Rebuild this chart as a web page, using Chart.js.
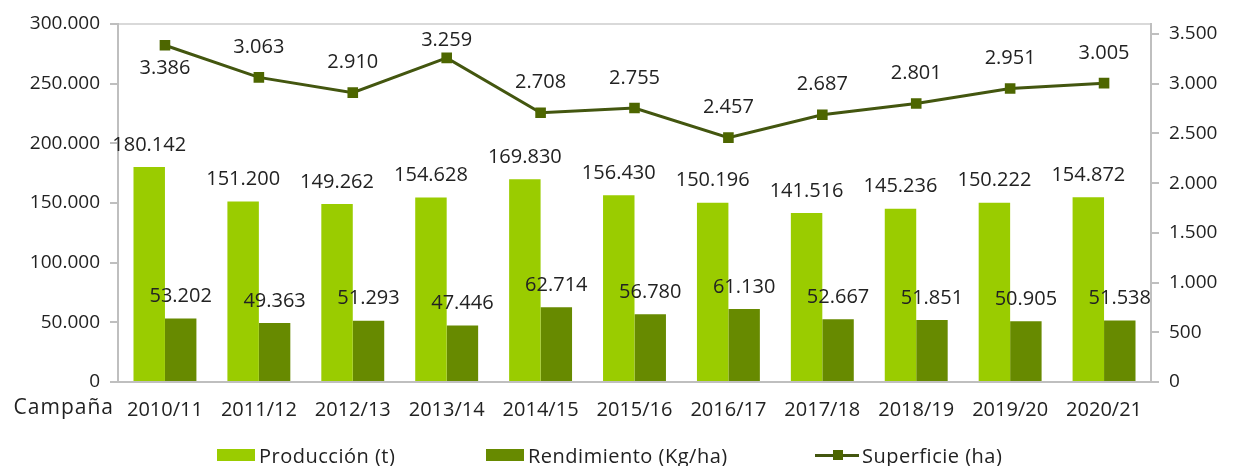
<!DOCTYPE html>
<html>
<head>
<meta charset="utf-8">
<script src="https://cdn.jsdelivr.net/npm/chart.js@4/dist/chart.umd.min.js"></script>
<style>
  html, body { margin: 0; padding: 0; background: #fff; }
  #wrap { position: relative; width: 1239px; height: 466px; }
  #legend { position: absolute; left: 0; top: 444px; width: 1239px; height: 22px; font-family: "Open Sans", sans-serif; font-size: 20px; letter-spacing: 0.5px; color: #222; }
  .item { position: absolute; top: 0; display: flex; align-items: center; height: 22px; white-space: nowrap; }
  .box { width: 38px; height: 12px; margin-right: 4px; }
  .line { position: relative; width: 44px; height: 3px; margin-right: 3px; }
  .line span { position: absolute; left: 18px; top: -4px; width: 10px; height: 10px; }
</style>
</head>
<body>
<div id="wrap">
  <canvas id="chart" width="1239" height="466"></canvas>
  <div id="legend"></div>
</div>
<script>
const categories = ["2010/11", "2011/12", "2012/13", "2013/14", "2014/15", "2015/16", "2016/17", "2017/18", "2018/19", "2019/20", "2020/21"];
const produccion = [180142, 151200, 149262, 154628, 169830, 156430, 150196, 141516, 145236, 150222, 154872];
const rendimiento = [53202, 49363, 51293, 47446, 62714, 56780, 61130, 52667, 51851, 50905, 51538];
const superficie = [3386, 3063, 2910, 3259, 2708, 2755, 2457, 2687, 2801, 2951, 3005];
const rightTicks = [0, 500, 1000, 1500, 2000, 2500, 3000, 3500];

const fontFamily = "'Open Sans', sans-serif";
const lightGreen = "#9ACC00";
const darkGreen = "#678A00";
const lineColor = "#43560F";
const markerColor = "#4D6600";

const fmt = (v) => String(v).replace(/\B(?=(\d{3})+(?!\d))/g, ".");

// value labels drawn from element positions
const valueLabels = {
  id: "valueLabels",
  afterDatasetsDraw(chart) {
    const ctx = chart.ctx;
    const top = chart.chartArea.top;
    ctx.save();
    ctx.font = "20px " + fontFamily;
    ctx.fillStyle = "#222";
    ctx.textAlign = "center";
    ctx.textBaseline = "middle";
    chart.data.datasets.forEach((ds, i) => {
      const meta = chart.getDatasetMeta(i);
      meta.data.forEach((el, j) => {
        let y;
        if (ds.type === "line") {
          // first label sits below its point, the rest above (kept inside the plot)
          y = j === 0 ? el.y + 23 : Math.max(el.y - 30, top + 16);
        } else {
          y = el.y - 22;
        }
        ctx.fillText(fmt(ds.data[j]), el.x, y);
      });
    });
    ctx.restore();
  },
};

// "Campaña" text at the left of the category labels
const campanaLabel = {
  id: "campanaLabel",
  afterDraw(chart) {
    const ctx = chart.ctx;
    ctx.save();
    ctx.font = "21px " + fontFamily;
    ctx.letterSpacing = "1px";
    ctx.fillStyle = "#222";
    ctx.textAlign = "right";
    ctx.textBaseline = "middle";
    ctx.fillText("Campaña", 114, 408);
    ctx.restore();
  },
};

const chartConfig = {
  type: "bar",
  data: {
    labels: categories,
    datasets: [
      {
        label: "Producción (t)",
        data: produccion,
        backgroundColor: lightGreen,
        yAxisID: "y",
        order: 2,
      },
      {
        label: "Rendimiento (Kg/ha)",
        data: rendimiento,
        backgroundColor: darkGreen,
        yAxisID: "y",
        order: 2,
      },
      {
        type: "line",
        label: "Superficie (ha)",
        data: superficie,
        borderColor: lineColor,
        backgroundColor: markerColor,
        borderWidth: 3,
        pointStyle: "rect",
        pointRadius: 7.5,
        pointBorderWidth: 0,
        pointBackgroundColor: markerColor,
        tension: 0,
        yAxisID: "y1",
        order: 1,
      },
    ],
  },
  options: {
    responsive: false,
    animation: false,
    layout: { padding: { left: 10, right: 0, top: 24, bottom: 46 } },
    datasets: {
      bar: { barPercentage: 1, categoryPercentage: 0.67 },
    },
    plugins: {
      legend: { display: false },
      tooltip: { enabled: false },
    },
    scales: {
      x: {
        grid: { display: false, drawTicks: false },
        border: { display: true, color: "#BFBFBF", width: 2 },
        ticks: { font: { family: fontFamily, size: 20 }, color: "#222", padding: 16, maxRotation: 0 },
        afterFit(scale) { scale.height = 38; },
      },
      y: {
        position: "left",
        min: 0,
        max: 300000,
        ticks: {
          stepSize: 50000,
          font: { family: fontFamily, size: 19 },
          color: "#222",
          padding: 10,
          callback: (v) => fmt(v),
        },
        grid: {
          color: (c) => (c.tick && c.tick.value === 300000 ? "#D9D9D9" : "transparent"),
          tickColor: "#BFBFBF",
          tickLength: 8,
          lineWidth: 2,
        },
        border: { color: "#BFBFBF", width: 2 },
        afterFit(scale) { scale.width = 108; },
      },
      y1: {
        position: "right",
        min: 0,
        max: 3600,
        ticks: {
          font: { family: fontFamily, size: 19 },
          color: "#222",
          padding: 10,
          callback: (v) => fmt(v),
        },
        afterBuildTicks(scale) {
          scale.ticks = rightTicks.map((v) => ({ value: v }));
        },
        grid: { drawOnChartArea: false, tickColor: "#BFBFBF", tickLength: 8, lineWidth: 2 },
        border: { color: "#BFBFBF", width: 2 },
        afterFit(scale) { scale.width = 88; },
      },
    },
  },
  plugins: [valueLabels, campanaLabel],
};

const canvas = document.getElementById("chart");
const myChart = new Chart(canvas, chartConfig);

// legend built from the datasets
const legend = document.getElementById("legend");
const legendLeft = [217, 486, 815];
myChart.data.datasets.forEach((ds, i) => {
  const item = document.createElement("div");
  item.className = "item";
  item.style.left = legendLeft[i] + "px";
  if (ds.type === "line") {
    item.innerHTML = '<div class="line" style="background:' + ds.borderColor + '"><span style="background:' + ds.pointBackgroundColor + '"></span></div>';
  } else {
    item.innerHTML = '<div class="box" style="background:' + ds.backgroundColor + '"></div>';
  }
  const text = document.createElement("span");
  text.textContent = ds.label;
  item.appendChild(text);
  legend.appendChild(item);
});
</script>
</body>
</html>
